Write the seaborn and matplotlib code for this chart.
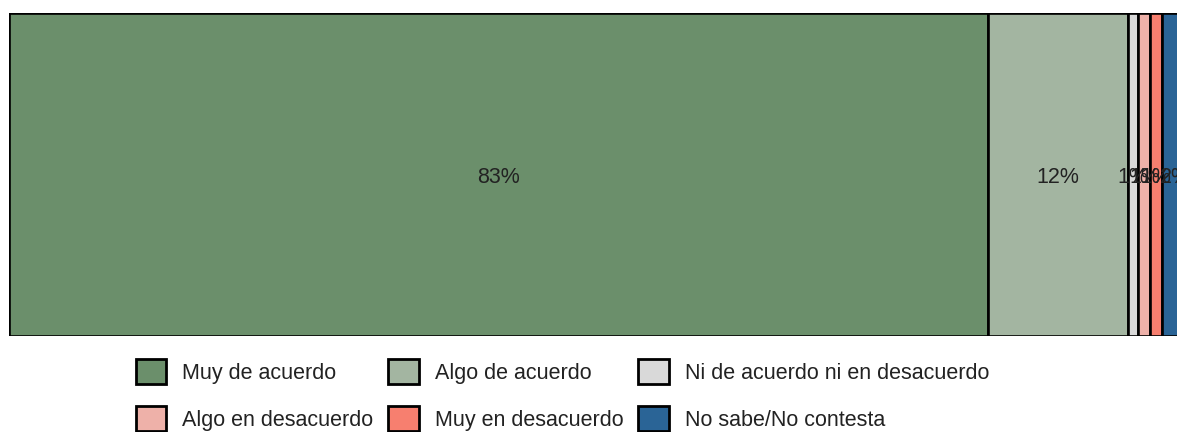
import pandas as pd
import matplotlib.pyplot as plt
import seaborn as sns
from matplotlib.patches import Patch

respuestas = ["Muy de acuerdo", "Algo de acuerdo", "Ni de acuerdo ni en desacuerdo",
              "Algo en desacuerdo", "Muy en desacuerdo", "No sabe/No contesta"]
porcentajes = [83.0, 11.9, 0.9, 1.0, 1.0, 2.2]
colores = ["#6b8f6b", "#a3b5a1", "#d9d9d9", "#eeb1a9", "#f77f6f", "#2a6496"]

sns.set_style("white")
plt.rcParams["font.family"] = ["Liberation Sans", "DejaVu Sans"]

df = pd.DataFrame({"grupo": "total", "respuesta": respuestas, "pct": porcentajes})
paleta = dict(zip(respuestas, colores))

fig = plt.figure(figsize=(11.77, 4.32), dpi=100)
# axes run past the right edge, the last segment is cut like in the original
ax = fig.add_axes([9 / 1177, 1 - 336 / 432, 1179 / 1177, 323 / 432])

sns.histplot(data=df, y="grupo", hue="respuesta", weights="pct", multiple="stack",
             discrete=True, shrink=1, hue_order=respuestas[::-1], palette=paleta,
             edgecolor="black", linewidth=1.9, alpha=1, legend=False, ax=ax)

ax.set_xlim(0, 100)
ax.set_ylim(0.5, -0.5)
ax.axis("off")

for p in ax.patches:
    w = p.get_width()
    if w <= 0:
        continue
    ax.text(p.get_x() + w / 2, p.get_y() + p.get_height() / 2 + 0.01, f"{w:.0f}%",
            ha="center", va="center", fontsize=15.5, color="#222222")

# legend filled column-wise, 3 columns x 2 rows
orden = [0, 3, 1, 4, 2, 5]
handles = [Patch(facecolor=colores[i], edgecolor="black", linewidth=2) for i in orden]
labels = [respuestas[i] for i in orden]
fig.legend(handles, labels, ncol=3, loc="upper left",
           bbox_to_anchor=(136 / 1177, 1 - 359 / 432), frameon=False, fontsize=15.5,
           borderpad=0, borderaxespad=0, handlelength=1.4, handleheight=1.4,
           handletextpad=0.75, columnspacing=0.7, labelspacing=1.05,
           labelcolor="#222222")

fig.savefig("out.png", dpi=100)
